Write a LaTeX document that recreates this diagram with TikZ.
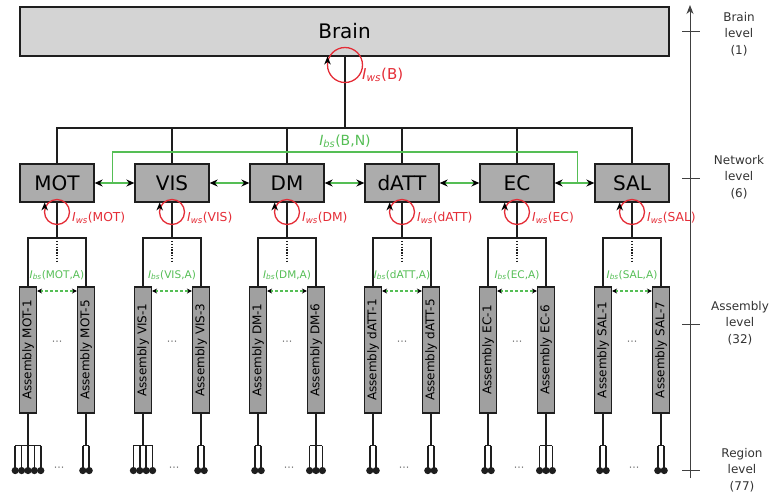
\documentclass[tikz,border=0pt]{standalone}
\usepackage{fontspec}
\setmainfont{DejaVu Sans}
\usetikzlibrary{arrows.meta,calc}
\definecolor{lblred}{RGB}{228,45,55}
\definecolor{lblgreen}{RGB}{85,190,85}
\definecolor{brainfill}{RGB}{212,212,212}
\definecolor{netfill}{RGB}{172,172,172}
\definecolor{asmfill}{RGB}{160,160,160}
\definecolor{linecol}{RGB}{30,30,30}
\newcommand\wsl[1]{\textit{I}\textsubscript{\textit{ws}}(#1)}
\newcommand\bsl[1]{\textit{I}\textsubscript{\textit{bs}}(#1)}
\begin{document}
\begin{tikzpicture}[x=1pt,y=-1pt,
  conn/.style={line width=1.5pt, draw=linecol},
  brainbox/.style={draw=linecol, line width=2.2pt, fill=brainfill, minimum width=649pt, minimum height=49pt, inner sep=0pt, font=\fontsize{20}{24}\selectfont},
  netbox/.style={draw=linecol, line width=1.3pt, fill=netfill, minimum width=74pt, minimum height=38pt, inner sep=0pt, font=\fontsize{20}{24}\selectfont},
  asmbox/.style={draw=linecol, line width=1.1pt, fill=asmfill, minimum width=126pt, minimum height=17pt, inner sep=0pt, rotate=90, font=\fontsize{12}{14}\selectfont},
  loopc/.style={draw=lblred, line width=1.3pt},
  redlbl/.style={text=lblred, inner sep=0pt},
  greenlbl/.style={text=lblgreen, inner sep=0pt},
  gline/.style={draw=lblgreen, line width=1.2pt},
  garrow/.style={draw=lblgreen, line width=1.2pt, {Stealth[black,length=8pt,width=7pt]}-{Stealth[black,length=8pt,width=7pt]}},
  sgarrow/.style={draw=lblgreen, line width=1.1pt, densely dashed, {Stealth[black,length=5pt,width=5pt]}-{Stealth[black,length=5pt,width=5pt]}},
  dotlbl/.style={text=black!55, inner sep=0pt, font=\fontsize{11}{12}\selectfont},
  lvl/.style={align=center, inner sep=0pt, text=black!80, font=\fontsize{12}{16.5}\selectfont},
  uptip/.pic={\fill[black] (0,-4.5) -- (-3.3,3.5) -- (0,1) -- (3.3,3.5) -- cycle;}
]
\useasboundingbox (0,0) rectangle (772,493);

% Brain
\node[brainbox] (brain) at (344.5,31.5) {Brain};
\coordinate (busy) at (0,128);
\coordinate (bdrop) at (345,56);

% Network boxes
\foreach \i/\nm in {1/MOT,2/VIS,3/DM,4/dATT,5/EC,6/SAL}{
  \pgfmathsetmacro\cx{57+115*(\i-1)}
  \node[netbox] (n\i) at (\cx,183) {\nm};
}

% bus from brain to networks
\draw[conn] (bdrop) -- (bdrop |- busy);
\draw[conn] (n1.north) -- (n1.north |- busy) -- (n6.north |- busy) -- (n6.north);
\foreach \i in {2,3,4,5}{ \draw[conn] (n\i.north) -- (n\i.north |- busy); }

% brain loop
\draw[loopc] (345,65) circle[radius=17.5pt];
\pic at (327.5,61) {uptip};
\node[redlbl, anchor=west, font=\fontsize{15}{18}\selectfont] (lwsB) at (362,75) {\wsl{B}};

% green network links
\foreach \a/\b in {1/2,2/3,3/4,4/5,5/6}{ \draw[garrow] (n\a.east) -- (n\b.west); }
\coordinate (g1) at ($(n1.east)!0.45!(n2.west)$);
\coordinate (g2) at ($(n5.east)!0.57!(n6.west)$);
\draw[gline] (g1) -- (g1 |- 0,152) -- (g2 |- 0,152) -- (g2);
\node[greenlbl, font=\fontsize{14}{17}\selectfont] (lbsBN) at (345,141) {\bsl{B,N}};

% groups
\foreach \i/\nm/\lnum/\rnum/\lk/\rk in {1/MOT/1/5/5/2, 2/VIS/1/3/4/2, 3/DM/1/6/2/3, 4/dATT/1/5/2/2, 5/EC/1/6/2/3, 6/SAL/1/7/2/2}{
  \pgfmathsetmacro\cx{57+115*(\i-1)}
  \node[asmbox] (aL\i) at (\cx-29,350) {Assembly \nm-\lnum};
  \node[asmbox] (aR\i) at (\cx+29,350) {Assembly \nm-\rnum};
  % bracket
  \draw[conn] (n\i.south) -- (n\i.south |- 0,238);
  \draw[conn] (aL\i.east) -- (aL\i.east |- 0,238) -- (aR\i.east |- 0,238) -- (aR\i.east);
  \draw[line width=1.3pt, linecol, dash pattern=on 1.3pt off 1.5pt] (\cx,241) -- (\cx,263);
  % loop
  \draw[loopc] (\cx,212) circle[radius=12.5pt];
  \pic at (\cx-12.3,207) {uptip};
  \node[redlbl, anchor=west, font=\fontsize{12.3}{14}\selectfont] (lws\i) at (\cx+15,218) {\wsl{\nm}};
  % assembly link
  \node[greenlbl, font=\fontsize{10.5}{12}\selectfont] (lbs\i) at (\cx,275) {\bsl{\nm,A}};
  \draw[sgarrow] (aL\i.south |- 0,291) -- (aR\i.north |- 0,291);
  \node[dotlbl] (d\i) at (\cx,343) {···};
  \node[dotlbl] (e\i) at (\cx+2,469) {···};
  % region forks
  \foreach \side/\k in {L/\lk, R/\rk}{
    \draw[conn] (a\side\i.west) -- ++(0,32) coordinate (f\side\i);
    \pgfmathsetmacro\hw{(\k-1)*3.2}
    \draw[conn] ([xshift=-\hw pt]f\side\i) -- ([xshift=\hw pt]f\side\i);
    \foreach \j in {1,...,\k}{
      \pgfmathsetmacro\xo{-\hw+(\j-1)*6.4}
      \draw[conn] ([xshift=\xo pt]f\side\i) -- ++(0,25) coordinate (r\side\i\j);
      \fill[linecol] (r\side\i\j) circle[radius=3.6pt];
    }
  }
}

% level axis
\draw[line width=1pt, black!75, -{Stealth[length=9pt,width=7pt]}] (690,478) coordinate (axb) -- (690,5) coordinate (axt);
\foreach \y in {31,178,324,470}{ \draw[line width=1pt, black!75] (682,\y) -- (700,\y); }
\node[lvl] (lv1) at (739,34) {Brain\\level\\(1)};
\node[lvl] (lv2) at (739,177) {Network\\level\\(6)};
\node[lvl] (lv3) at (740,323) {Assembly\\level\\(32)};
\node[lvl] (lv4) at (742,470) {Region\\level\\(77)};
\end{tikzpicture}
\end{document}
